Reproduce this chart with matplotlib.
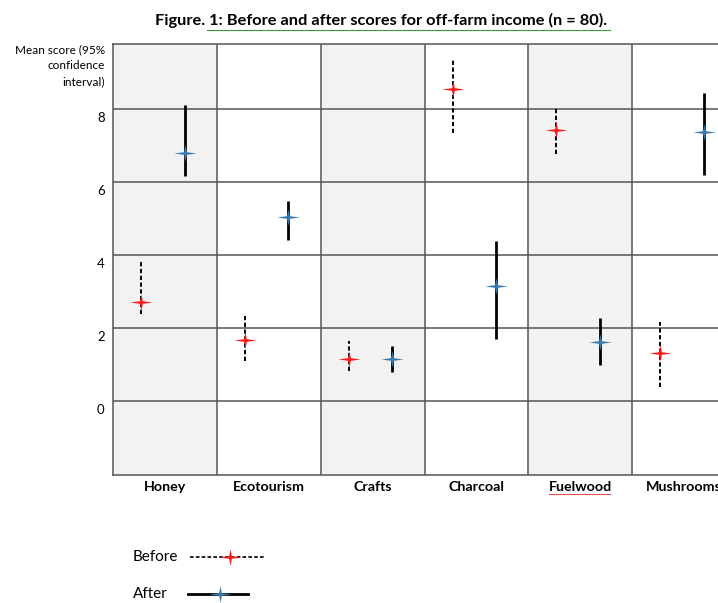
import matplotlib
matplotlib.use("Agg")
import matplotlib.pyplot as plt
import numpy as np
from matplotlib.path import Path
from matplotlib.lines import Line2D
from matplotlib.transforms import ScaledTranslation

# Off-farm income scores, before and after (means with 95% CI bounds)
categories = ["Honey", "Ecotourism", "Crafts", "Charcoal", "Fuelwood", "Mushrooms"]
before_mean = [2.70, 1.67, 1.14, 8.54, 7.42, 1.31]
before_low = [2.38, 1.10, 0.83, 7.33, 6.76, 0.39]
before_high = [3.86, 2.36, 1.64, 9.37, 8.02, 2.17]
after_mean = [6.80, 5.03, 1.14, 3.15, 1.61, 7.36]
after_low = [6.15, 4.41, 0.80, 1.69, 0.99, 6.19]
after_high = [8.11, 5.49, 1.51, 4.39, 2.27, 8.43]
y_ticks = [0, 2, 4, 6, 8]

W, H = 718, 603
fig = plt.figure(figsize=(W / 100, H / 100), dpi=100)
plt.rcParams["font.family"] = ["Lato", "DejaVu Sans"]

def fx(px):
    return px / W

def fy(py):
    return 1 - py / H

# plot area (extends a little past the right edge of the figure)
left, right, top, bottom = 113, 736, 44, 475
ax = fig.add_axes([fx(left), fy(bottom), fx(right - left), (bottom - top) / H])
ax.set_xlim(-0.5, len(categories) - 0.5)
ax.set_ylim(-2.03, 9.78)

grid_col = "#555555"
for i in range(len(categories)):
    if i % 2 == 0:
        ax.axvspan(i - 0.5, i + 0.5, color="#f2f2f2", zorder=0, lw=0)
    if i > 0:
        ax.axvline(i - 0.5, color=grid_col, lw=1.1, zorder=1)
for v in y_ticks:
    ax.axhline(v, color=grid_col, lw=1.1, zorder=1)
for s in ax.spines.values():
    s.set_color(grid_col)
    s.set_linewidth(1.1)

# four-pointed star marker, wider than tall
star = Path([(0, 0.75), (0.12, 0.12), (1.0, 0), (0.12, -0.12), (0, -0.75),
             (-0.12, -0.12), (-1.0, 0), (-0.12, 0.12), (0, 0.75)],
            [Path.MOVETO] + [Path.LINETO] * 7 + [Path.CLOSEPOLY])

x = np.arange(len(categories))
xb = x - 0.23
xa = x + 0.19

bm, bl, bh = map(np.array, (before_mean, before_low, before_high))
am, al, ah = map(np.array, (after_mean, after_low, after_high))

ax.vlines(xb, bl, bh, colors="black", linestyles=(0, (2.2, 1.3)), lw=1.4, zorder=3)
ax.vlines(xa, al, ah, colors="black", lw=2.0, zorder=3)
ax.plot(xb, bm, ls="none", marker=star, ms=16, color="#ff1a1a", mec="none", zorder=4)
ax.plot(xa, am, ls="none", marker=star, ms=16, color="#3a78b0", mec="none", zorder=4)

ax.set_yticks(y_ticks)
ax.set_yticklabels([str(v) for v in y_ticks], fontsize=9.5)
ax.tick_params(axis="y", length=0, pad=6)
for lab in ax.get_yticklabels():
    lab.set_transform(lab.get_transform() + ScaledTranslation(0, -8 / 100, fig.dpi_scale_trans))
ax.set_xticks(x)
ax.set_xticklabels(categories, fontsize=10.3, fontweight="bold")
ax.tick_params(axis="x", length=0, pad=4)

# y-axis caption
fig.text(fx(105), fy(44), "Mean score (95%\nconfidence\ninterval)", ha="right", va="top",
         fontsize=8.5, linespacing=1.55)

# title with its underline
fig.text(fx(381), fy(20), "Figure. 1: Before and after scores for off-farm income (n = 80).",
         ha="center", va="center", fontsize=11.8, fontweight="bold")
fig.add_artist(Line2D([fx(207), fx(610)], [fy(30), fy(30)], color="#3c9a3c", lw=0.8))
fig.add_artist(Line2D([fx(549), fx(610)], [fy(494), fy(494)], color="#e05050", lw=0.8))

# legend
fig.text(fx(133), fy(557), "Before", ha="left", va="center", fontsize=11)
fig.add_artist(Line2D([fx(190), fx(265)], [fy(557), fy(557)], color="black",
                      ls=(0, (2.2, 1.3)), lw=1.2))
fig.add_artist(Line2D([fx(230)], [fy(557)], ls="none", marker=star, ms=16,
                      color="#ff1a1a", mec="none"))
fig.text(fx(133), fy(594), "After", ha="left", va="center", fontsize=11)
fig.add_artist(Line2D([fx(188), fx(248)], [fy(594), fy(594)], color="black", lw=2.0))
fig.add_artist(Line2D([fx(220)], [fy(594)], ls="none", marker=star, ms=16,
                      color="#3a78b0", mec="none"))

fig.savefig("out.png", dpi=100)
